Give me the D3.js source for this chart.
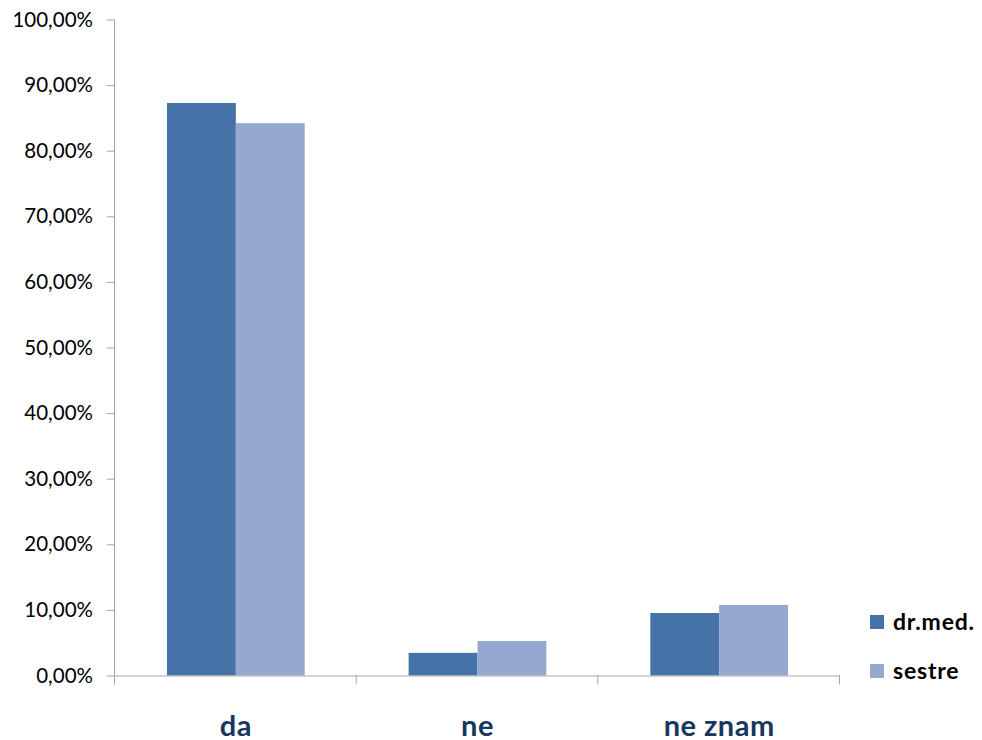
<!DOCTYPE html>
<html><head><meta charset="utf-8">
<script src="https://cdn.jsdelivr.net/npm/d3@7"></script>
<style>body{margin:0;background:#fff}svg{display:block}</style>
</head><body><svg id="c" width="982" height="740"></svg>
<script>
const categories = ["da", "ne", "ne znam"];
const seriesNames = ["dr.med.", "sestre"];
const drmed = [0.8727, 0.0345, 0.0953];
const sestre = [0.842, 0.0526, 0.1075];
const yTicks = [0,0.1,0.2,0.3,0.4,0.5,0.6,0.7,0.8,0.9,1.0];
const colors = ["#4573A7", "#95A9D0"];

const svg = d3.select("#c");
const x0 = 115, x1 = 840, yTop = 19.5, yBot = 675.5;
const x = d3.scaleBand().domain(categories).range([x0, x1]).paddingInner(0.43).paddingOuter(0.215);
const xs = d3.scaleBand().domain(seriesNames).range([0, x.bandwidth()]);
const y = d3.scaleLinear().domain([0, 1]).range([yBot, yTop]);
const fmt = v => d3.format(".2f")(v*100).replace(".", ",") + "%";
const ff = "Lato, 'Open Sans', sans-serif";

// y axis
const yAxis = svg.append("g").attr("transform", `translate(${x0},0)`)
  .call(d3.axisLeft(y).tickValues(yTicks).tickFormat(fmt).tickSize(8).tickPadding(14));
yAxis.select(".domain").attr("stroke", "#A6A6A6").attr("d", `M-0.5,${yTop}V${yBot+9}`);
yAxis.selectAll(".tick line").attr("stroke", "#A6A6A6");
yAxis.selectAll("text").attr("font-family", ff).attr("font-size", 20.5).attr("fill", "#000");

// bars
const data = [drmed, sestre];
seriesNames.forEach((s, i) => {
  svg.append("g").selectAll("rect").data(categories).join("rect")
    .attr("x", c => x(c) + xs(s))
    .attr("width", xs.bandwidth())
    .attr("y", (c, j) => y(data[i][j]))
    .attr("height", (c, j) => y(0) - y(data[i][j]))
    .attr("fill", colors[i]);
});

// x axis
const xAxis = svg.append("g").attr("transform", `translate(0,${yBot})`)
  .call(d3.axisBottom(x).tickSize(0).tickPadding(0));
xAxis.select(".domain").attr("stroke", "#A6A6A6").attr("d", `M${x0},0.5H${x1}`);
xAxis.selectAll(".tick text").attr("dy", 0).attr("y", 60)
  .attr("font-family", ff).attr("font-weight", "bold")
  .attr("font-size", 29).attr("letter-spacing", 0.5).attr("fill", "#17375E");
const sep = d3.range(categories.length + 1).map(i => x0 + i * (x1 - x0) / categories.length);
xAxis.selectAll(".sep").data(sep).join("line").attr("class", "sep")
  .attr("x1", d => d - 0.5).attr("x2", d => d - 0.5).attr("y1", 0).attr("y2", 9)
  .attr("stroke", "#A6A6A6");

// legend
const lg = svg.append("g").attr("transform", "translate(870,615)");
seriesNames.forEach((s, i) => {
  lg.append("rect").attr("x", 0).attr("y", i * 49).attr("width", 14).attr("height", 14).attr("fill", colors[i]);
  lg.append("text").attr("x", 23).attr("y", i * 49 + 15)
    .attr("font-family", ff).attr("font-weight", "bold")
    .attr("font-size", 23).attr("letter-spacing", 0.8).attr("fill", "#000").text(s);
});
</script></body></html>
